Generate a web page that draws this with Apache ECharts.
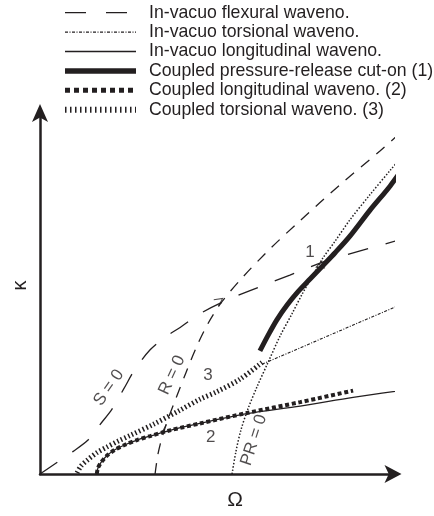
<!DOCTYPE html>
<html>
<head>
<meta charset="utf-8">
<script src="https://cdn.jsdelivr.net/npm/echarts@6/dist/echarts.min.js"></script>
<style>
  html, body { margin: 0; padding: 0; background: #ffffff; }
  #chart { width: 434px; height: 516px; }
</style>
</head>
<body>
<div id="chart"></div>
<script>
// Dimensionless frequency Ω (x) against wavenumber κ (y), one array per branch.
const flexuralVacuo = [[0,0],[0.48,0.32],[0.93,0.62],[1.36,0.94],[1.70,1.37],[2.04,1.80],[2.38,2.37],[2.69,2.90],[3.12,3.44],[3.54,3.79],[3.97,4.06],[4.53,4.44],[5.16,4.76],[5.95,5.08],[7.08,5.51],[8.07,5.89],[9.07,6.18],[10.06,6.45]];
const torsionalVacuo = [[6.29,3.04],[10.76,4.92]];
const longitudinalVacuo = [[1.61,0],[1.64,0.16],[1.73,0.32],[1.90,0.51],[2.12,0.67],[2.41,0.81],[2.75,0.94],[3.12,1.05],[3.68,1.21],[4.53,1.40],[5.86,1.67],[7.37,1.88],[8.87,2.12],[10.76,2.39]];
const pressureReleaseCutOn = [[6.23,3.41],[6.46,3.84],[6.71,4.27],[7.00,4.68],[7.31,5.05],[7.65,5.40],[7.99,5.75],[8.36,6.13],[8.78,6.59],[9.35,7.31],[9.92,7.98],[10.42,8.66]];
const coupledLongitudinal = [[1.61,0],[1.64,0.16],[1.73,0.32],[1.90,0.51],[2.12,0.67],[2.41,0.81],[2.75,0.94],[3.12,1.05],[3.68,1.21],[4.53,1.40],[5.86,1.69],[7.37,1.99],[8.87,2.31]];
const coupledTorsional = [[1.05,0.03],[1.16,0.22],[1.36,0.40],[1.61,0.59],[1.90,0.75],[2.21,0.91],[2.58,1.08],[3.20,1.37],[3.97,1.77],[4.53,2.07],[5.01,2.28],[5.67,2.63],[6.29,3.09]];
const rZero = [[3.26,0],[3.34,0.54],[3.46,1.02],[3.63,1.53],[3.82,2.02],[4.14,2.82],[4.42,3.49],[4.76,4.17],[5.16,4.78],[5.75,5.46],[6.52,6.24],[7.37,7.02],[8.50,8.01],[9.63,8.95],[10.48,9.68]];
const prZero = [[5.44,0],[5.55,0.62],[5.69,1.21],[5.89,1.80],[6.15,2.42],[6.46,3.09],[6.80,3.82],[7.14,4.44],[7.42,4.97],[7.73,5.51],[8.02,5.99],[8.36,6.45],[8.78,7.04],[9.35,7.74],[9.92,8.41],[10.48,9.06]];

// Curve annotations: text, position (Ω, κ) and text angle in degrees.
const curveLabelText = ['1', '2', '3', 'S = 0', 'R = 0', 'PR = 0'];
const curveLabelPos = [[7.65,6.13],[4.84,1.02],[4.76,2.74],[1.95,2.39],[3.74,2.74],[6.06,0.94]];
const curveLabelAngle = [0, 0, 0, 55, 65, 72];

// Small direction arrowheads on the branches: position (Ω, κ) and heading in degrees.
const arrowPos = [[5.08,4.80],[3.55,1.22],[7.93,5.77]];
const arrowHeading = [35, 215, 200];

const legendNames = [
  'In-vacuo flexural waveno.',
  'In-vacuo torsional waveno.',
  'In-vacuo longitudinal waveno.',
  'Coupled pressure-release cut-on (1)',
  'Coupled longitudinal waveno. (2)',
  'Coupled torsional waveno. (3)'
];
const axisNames = ['Ω', 'κ'];

const INK = '#231f20';
const FONT = 'Liberation Sans, Arial, Helvetica, sans-serif';

// Stroke styles shared by the plotted curves and their legend samples.
const styles = {
  flexural:     { width: 1.3, type: [21, 18] },
  torsional:    { width: 1.1, type: [3, 1.5, 1, 1.5] },
  longitudinal: { width: 1.3, type: 'solid' },
  cutOn:        { width: 5,   type: 'solid' },
  coupledLong:  { width: 4,   type: [4, 2.7] },
  coupledTors:  { width: 5,   type: [1.5, 2.5] },
  rZero:        { width: 1.3, type: [11, 9] },
  prZero:       { width: 1.5, type: [1.5, 1.8] }
};
const legendStyles = [
  { width: 1.3, type: [21, 20] },
  { width: 1.1, type: [3, 1.5, 1, 1.5] },
  { width: 1.3, type: 'solid' },
  { width: 5.5, type: 'solid' },
  { width: 5,   type: [5, 4] },
  { width: 6,   type: [1.5, 3.5] }
];

function curve(name, data, style, smooth) {
  return {
    name: name,
    type: 'line',
    data: data,
    symbol: 'none',
    smooth: smooth,
    clip: false,
    silent: true,
    animation: false,
    lineStyle: { color: INK, width: style.width, type: style.type, cap: 'butt' }
  };
}

const chart = echarts.init(document.getElementById('chart'), null, { renderer: 'canvas' });

chart.setOption({
  backgroundColor: '#ffffff',
  animation: false,
  textStyle: { fontFamily: FONT, color: INK },
  grid: { left: 40, top: 113, width: 353, height: 372, containLabel: false },
  legend: {
    orient: 'vertical',
    left: 62,
    top: 3,
    padding: 0,
    itemGap: 0,
    itemWidth: 71,
    itemHeight: 12,
    selectedMode: false,
    itemStyle: { opacity: 0 },
    textStyle: { fontFamily: FONT, fontSize: 17.7, color: INK, lineHeight: 19.4, padding: [0, 0, 0, 8] },
    data: legendNames.map((n, i) => ({
      name: n,
      itemStyle: { opacity: 0 },
      lineStyle: { color: INK, width: legendStyles[i].width, type: legendStyles[i].type, cap: 'butt', opacity: 1 }
    }))
  },
  xAxis: {
    type: 'value',
    min: 0,
    max: 10,
    name: axisNames[0],
    nameLocation: 'middle',
    nameGap: 16,
    nameTextStyle: { fontFamily: FONT, fontSize: 21, color: INK, padding: [0, 0, 0, 37] },
    axisLine: {
      show: true,
      onZero: false,
      symbol: ['none', 'arrow'],
      symbolSize: [13.5, 17],
      symbolOffset: [0, 8.5],
      lineStyle: { color: INK, width: 2.5 }
    },
    axisTick: { show: false },
    axisLabel: { show: false },
    splitLine: { show: false }
  },
  yAxis: {
    type: 'value',
    min: 0,
    max: 10,
    name: axisNames[1],
    nameLocation: 'middle',
    nameGap: 10,
    nameRotate: 90,
    nameTextStyle: { fontFamily: FONT, fontSize: 20, color: INK, padding: [0, 0, 0, 16] },
    axisLine: {
      show: true,
      onZero: false,
      symbol: ['none', 'arrow'],
      symbolSize: [12, 18],
      symbolOffset: [0, 9],
      lineStyle: { color: INK, width: 2.5 }
    },
    axisTick: { show: false },
    axisLabel: { show: false },
    splitLine: { show: false }
  },
  series: [
    curve('R = 0', rZero, styles.rZero, 0.3),
    curve('PR = 0', prZero, styles.prZero, 0.3),
    curve(legendNames[0], flexuralVacuo, styles.flexural, 0.3),
    curve(legendNames[1], torsionalVacuo, styles.torsional, false),
    curve(legendNames[2], longitudinalVacuo, styles.longitudinal, 0.3),
    curve(legendNames[5], coupledTorsional, styles.coupledTors, 0.3),
    curve(legendNames[4], coupledLongitudinal, styles.coupledLong, 0.3),
    curve(legendNames[3], pressureReleaseCutOn, styles.cutOn, 0.3),
    {
      name: 'arrowheads',
      type: 'scatter',
      silent: true,
      animation: false,
      symbol: 'path://M0,0L10,5L0,10',
      symbolSize: [8, 8],
      itemStyle: { color: 'rgba(0,0,0,0)', borderColor: INK, borderWidth: 1 },
      data: arrowPos.map((p, i) => ({ value: p, symbolRotate: arrowHeading[i] }))
    },
    {
      name: 'labels',
      type: 'scatter',
      silent: true,
      animation: false,
      symbol: 'circle',
      symbolSize: 1,
      itemStyle: { color: 'rgba(0,0,0,0)' },
      label: {
        show: true,
        position: 'inside',
        formatter: '{b}',
        fontFamily: FONT,
        fontSize: 17,
        color: INK
      },
      data: curveLabelText.map((t, i) => ({
        name: t,
        value: curveLabelPos[i],
        label: { rotate: curveLabelAngle[i] }
      }))
    }
  ]
});
</script>
</body>
</html>
